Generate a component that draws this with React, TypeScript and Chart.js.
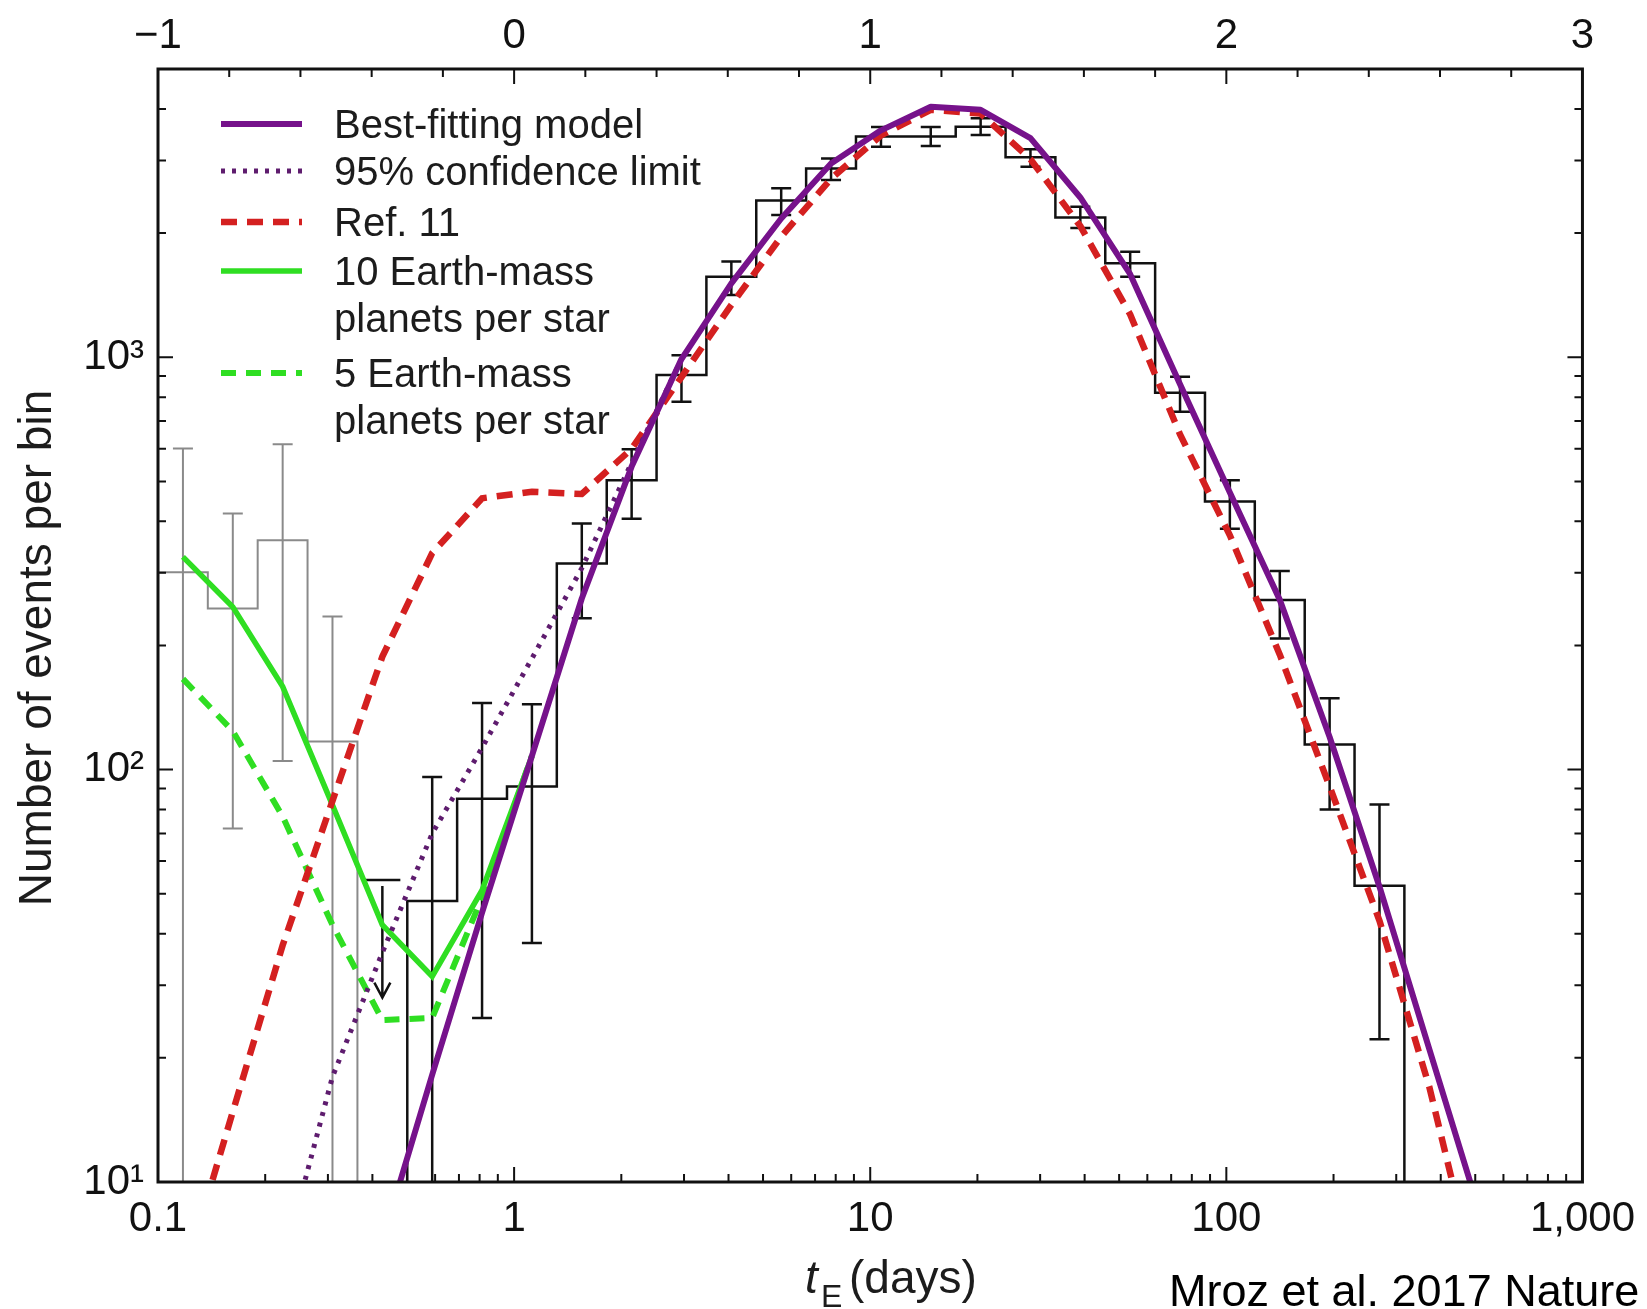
import React, { useEffect, useRef } from 'react';
import { Chart, registerables } from 'chart.js';

Chart.register(...registerables);

// ---------- data ----------
// bin centres (tE, days) of the 0.14-dex bins
const binCenters = [0.1175, 0.1622, 0.2239, 0.309, 0.4266, 0.5888, 0.8128, 1.122, 1.549, 2.138, 2.951, 4.074, 5.623, 7.762, 10.72, 14.79, 20.42, 28.18, 38.9, 53.7, 74.13, 102.3, 141.3, 195.0, 269.2, 371.5, 512.9];

const bestFit = [null, null, null, null, 7.2, 18.2, 45, 108, 260, 543, 990, 1510, 2170, 2950, 3550, 4050, 3980, 3400, 2440, 1590, 860, 470, 258, 120, 52, 21, 8.5];
const confidence95 = [null, null, 6.3, 18, 36, 70, 113, 186, 308, 555, 990];
const ref11 = [5.8, 14.8, 37.5, 84, 188, 335, 455, 472, 466, 600, 895, 1340, 1960, 2710, 3450, 3980, 3900, 3020, 2080, 1270, 650, 370, 190, 91, 43, 17, 5.4];
const earth10 = [328, 248, 159, 82, 42, 31.5, 51, 108];
const earth5 = [166, 124, 77, 42, 24.7, 25, 49, 108];

// histogram (grey: shortest bins, black: the rest)
const grayEdges = [0.1, 0.138, 0.1905, 0.263, 0.3631];
const grayCounts = [301, 246, 360, 117];
const grayErrX = [0.1175, 0.1622, 0.2239, 0.309];
const grayErrLow = [1, 72, 105, 1];
const grayErrHigh = [601, 418, 615, 235];

const blackEdges = [0.5012, 0.6918, 0.955, 1.318, 1.82, 2.512, 3.467, 4.786, 6.607, 9.12, 12.59, 17.38, 23.99, 33.11, 45.71, 63.1, 87.1, 120.2, 166.0, 229.1, 316.2];
const blackCounts = [48, 85, 91, 316, 503, 906, 1567, 2400, 2870, 3430, 3430, 3620, 3054, 2183, 1690, 820, 447, 258, 115, 52.3];
const blackErrX = [0.5888, 0.8128, 1.122, 1.549, 2.138, 2.951, 4.074, 5.623, 7.762, 10.72, 14.79, 20.42, 28.18, 38.9, 53.7, 74.13, 102.3, 141.3, 195.0, 269.2];
const blackErrLow = [1, 25, 38, 233, 406, 780, 1416, 2213, 2690, 3238, 3252, 3461, 2898, 2057, 1567, 738, 384, 208, 80, 22.2];
const blackErrHigh = [96, 145, 144, 395, 598, 1011, 1706, 2570, 3035, 3619, 3619, 3796, 3194, 2316, 1802, 897, 503, 303, 149, 82.3];

// upper limit bin
const limitX = [0.4266];
const limitTop = [54];
const limitTip = [28];

const FLOOR = 1; // below the axis: histogram edges drop to the frame

// axis ticks
const xMajor = [0.1, 1, 10, 100, 1000];
const xMajorLabels = ['0.1', '1', '10', '100', '1,000'];
const yMajor = [10, 100, 1000];
const yMajorLabels = ['10\u00B9', '10\u00B2', '10\u00B3'];
const topMajor = [-1, 0, 1, 2, 3];
const topLabels = ['\u22121', '0', '1', '2', '3'];
const X_MIN = 0.1, X_MAX = 1000, Y_MIN = 10, Y_MAX = 5000;

// ---------- helpers ----------
const curve = (ys: (number | null)[]) =>
  ys.map((y, i) => ({ x: binCenters[i], y })).filter((p) => p.y !== null && p.y !== undefined) as { x: number; y: number }[];

const hist = (edges: number[], counts: number[], leadingFloor: boolean) => {
  const p = edges.map((x, i) => ({ x, y: i < counts.length ? counts[i] : FLOOR }));
  return leadingFloor ? [{ x: edges[0], y: FLOOR }, ...p] : p;
};

const FONT = '"Liberation Sans", Arial, Helvetica, sans-serif';
const PURPLE = '#76128B';
const RED = '#D42020';
const GREEN = '#2FDE22';

const errorBarPlugin = {
  id: 'errorBars',
  beforeDatasetsDraw(chart: any) {
    const { ctx, chartArea: a, scales } = chart;
    const x = scales.x, y = scales.y;
    ctx.save();
    ctx.beginPath();
    ctx.rect(a.left, a.top, a.width, a.height);
    ctx.clip();
    const draw = (xs: number[], lo: number[], hi: number[], color: string, w: number) => {
      ctx.strokeStyle = color;
      ctx.lineWidth = w;
      ctx.setLineDash([]);
      ctx.beginPath();
      xs.forEach((xv, i) => {
        const px = x.getPixelForValue(xv);
        const p1 = y.getPixelForValue(lo[i]);
        const p2 = y.getPixelForValue(hi[i]);
        ctx.moveTo(px, p1);
        ctx.lineTo(px, p2);
        ctx.moveTo(px - 10, p1);
        ctx.lineTo(px + 10, p1);
        ctx.moveTo(px - 10, p2);
        ctx.lineTo(px + 10, p2);
      });
      ctx.stroke();
    };
    draw(grayErrX, grayErrLow, grayErrHigh, '#8a8a8a', 2);
    draw(blackErrX, blackErrLow, blackErrHigh, '#111', 2.5);
    // upper limit with arrow
    ctx.strokeStyle = '#111';
    ctx.lineWidth = 2.5;
    ctx.beginPath();
    limitX.forEach((xv, i) => {
      const px = x.getPixelForValue(xv);
      const t = y.getPixelForValue(limitTop[i]);
      const b = y.getPixelForValue(limitTip[i]);
      ctx.moveTo(px - 18, t);
      ctx.lineTo(px + 18, t);
      ctx.moveTo(px, t + 6);
      ctx.lineTo(px, b);
      ctx.moveTo(px - 8, b - 15);
      ctx.lineTo(px, b);
      ctx.lineTo(px + 8, b - 15);
    });
    ctx.stroke();
    ctx.restore();
  },
};

const framePlugin = {
  id: 'frameTicks',
  afterDatasetsDraw(chart: any) {
    const { ctx, chartArea: a, scales } = chart;
    const x = scales.x, y = scales.y, xt = scales.xTop;
    const MAJ = 15, MIN = 8;
    ctx.save();
    ctx.setLineDash([]);
    ctx.strokeStyle = '#111';
    ctx.lineWidth = 2;
    ctx.beginPath();
    for (let d = -1; d < 3; d++) {
      for (let m = 1; m <= 9; m++) {
        const v = m * Math.pow(10, d);
        if (v <= X_MIN || v >= X_MAX) continue;
        const px = x.getPixelForValue(v);
        const len = m === 1 ? MAJ : MIN;
        ctx.moveTo(px, a.bottom);
        ctx.lineTo(px, a.bottom - len);
      }
    }
    for (let i = 1; i < 20; i++) {
      const v = -1 + i * 0.2;
      const px = xt.getPixelForValue(v);
      const len = i % 5 === 0 ? MAJ : MIN;
      ctx.moveTo(px, a.top);
      ctx.lineTo(px, a.top + len);
    }
    for (let d = 1; d <= 3; d++) {
      for (let m = 1; m <= 9; m++) {
        const v = m * Math.pow(10, d);
        if (v <= Y_MIN || v >= Y_MAX) continue;
        const py = y.getPixelForValue(v);
        const len = m === 1 ? MAJ : MIN;
        ctx.moveTo(a.left, py);
        ctx.lineTo(a.left + len, py);
        ctx.moveTo(a.right, py);
        ctx.lineTo(a.right - len, py);
      }
    }
    ctx.stroke();
    ctx.lineWidth = 3;
    ctx.strokeRect(a.left, a.top, a.right - a.left, a.bottom - a.top);
    ctx.restore();
  },
};

const legendEntries = [
  { ds: 0, y: 55 },
  { ds: 1, y: 102 },
  { ds: 2, y: 153 },
  { ds: 3, y: 202 },
  { ds: 4, y: 304 },
];

const textPlugin = {
  id: 'texts',
  afterDraw(chart: any) {
    const { ctx, chartArea: a } = chart;
    ctx.save();
    // legend
    legendEntries.forEach((e) => {
      const ds = chart.data.datasets[e.ds];
      const cy = a.top + e.y;
      ctx.beginPath();
      ctx.setLineDash(ds.borderDash || []);
      ctx.lineWidth = ds.borderWidth;
      ctx.strokeStyle = ds.borderColor;
      ctx.lineCap = 'butt';
      ctx.moveTo(a.left + 63, cy);
      ctx.lineTo(a.left + 144, cy);
      ctx.stroke();
      ctx.setLineDash([]);
      ctx.fillStyle = '#1c1c1c';
      ctx.font = `40px ${FONT}`;
      ctx.textAlign = 'left';
      ctx.textBaseline = 'alphabetic';
      String(ds.label).split('\n').forEach((line: string, i: number) => {
        ctx.fillText(line, a.left + 176, cy + 14 + i * 47);
      });
    });
    // y title
    ctx.fillStyle = '#1c1c1c';
    ctx.save();
    ctx.translate(51, 648);
    ctx.rotate(-Math.PI / 2);
    ctx.font = `46px ${FONT}`;
    ctx.textAlign = 'center';
    ctx.textBaseline = 'alphabetic';
    ctx.fillText('Number of events per bin', 0, 0);
    ctx.restore();
    // x title
    ctx.textAlign = 'left';
    ctx.textBaseline = 'alphabetic';
    ctx.font = `italic 46px ${FONT}`;
    ctx.fillText('t', 805, 1293);
    ctx.font = `32px ${FONT}`;
    ctx.fillText('E', 821, 1307);
    ctx.font = `46px ${FONT}`;
    ctx.fillText('(days)', 849, 1293);
    // citation
    ctx.fillStyle = '#000';
    ctx.font = `45px ${FONT}`;
    ctx.fillText('Mroz et al. 2017 Nature 548', 1169, 1306);
    ctx.restore();
  },
};

export default function App() {
  const ref = useRef<HTMLCanvasElement>(null);
  useEffect(() => {
    document.body.style.margin = '0';
    document.body.style.overflow = 'hidden';
    Chart.defaults.font.family = FONT;
    const tickFont = { size: 42, family: FONT };
    const chart = new Chart(ref.current as HTMLCanvasElement, {
      type: 'line',
      data: {
        datasets: [
          { label: 'Best-fitting model', data: curve(bestFit), borderColor: PURPLE, borderWidth: 6, borderJoinStyle: 'round', clip: 0 },
          { label: '95% confidence limit', data: curve(confidence95), borderColor: '#5E1C6E', borderWidth: 5, borderDash: [4, 7], clip: 0 },
          { label: 'Ref. 11', data: curve(ref11), borderColor: RED, borderWidth: 6.5, borderDash: [16, 10], clip: 0 },
          { label: '10 Earth-mass\nplanets per star', data: curve(earth10), borderColor: GREEN, borderWidth: 5.5, clip: 0 },
          { label: '5 Earth-mass\nplanets per star', data: curve(earth5), borderColor: GREEN, borderWidth: 6, borderDash: [15, 10], clip: 0 },
          { label: 'histogram', data: hist(blackEdges, blackCounts, true), borderColor: '#111', borderWidth: 2.5, stepped: 'before', clip: 0 },
          { label: 'histogram short', data: hist(grayEdges, grayCounts, false), borderColor: '#8a8a8a', borderWidth: 2, stepped: 'before', clip: 0 },
        ] as any,
      },
      options: {
        responsive: false,
        devicePixelRatio: 1,
        animation: false,
        parsing: true,
        layout: { padding: 0 },
        elements: { point: { radius: 0, hoverRadius: 0 }, line: { tension: 0, fill: false } },
        plugins: { legend: { display: false }, tooltip: { enabled: false } },
        scales: {
          x: {
            type: 'logarithmic',
            position: 'bottom',
            min: X_MIN,
            max: X_MAX,
            grid: { display: false, drawTicks: false },
            border: { display: false },
            afterBuildTicks: (s: any) => { s.ticks = xMajor.map((v) => ({ value: v })); },
            afterFit: (s: any) => { s.height = 127; },
            ticks: { autoSkip: false, maxRotation: 0, minRotation: 0, padding: 12, color: '#111', font: tickFont, callback: (_v: any, i: number) => xMajorLabels[i] },
          },
          xTop: {
            type: 'linear',
            position: 'top',
            min: -1,
            max: 3,
            grid: { display: false, drawTicks: false },
            border: { display: false },
            afterBuildTicks: (s: any) => { s.ticks = topMajor.map((v) => ({ value: v })); },
            afterFit: (s: any) => { s.height = 69; },
            ticks: { autoSkip: false, maxRotation: 0, minRotation: 0, padding: 7, color: '#111', font: tickFont, callback: (_v: any, i: number) => topLabels[i] },
          },
          y: {
            type: 'logarithmic',
            position: 'left',
            min: Y_MIN,
            max: Y_MAX,
            grid: { display: false, drawTicks: false },
            border: { display: false },
            afterBuildTicks: (s: any) => { s.ticks = yMajor.map((v) => ({ value: v })); },
            afterFit: (s: any) => { s.width = 158; },
            ticks: { autoSkip: false, padding: 14, color: '#111', font: tickFont, callback: (_v: any, i: number) => yMajorLabels[i] },
          },
          yRight: {
            type: 'logarithmic',
            position: 'right',
            min: Y_MIN,
            max: Y_MAX,
            grid: { display: false, drawTicks: false },
            border: { display: false },
            afterFit: (s: any) => { s.width = 50; },
            ticks: { display: false },
          },
        },
      } as any,
      plugins: [errorBarPlugin, framePlugin, textPlugin],
    });
    return () => chart.destroy();
  }, []);
  return <canvas ref={ref} width={1647} height={1309} style={{ display: 'block', width: '1647px', height: '1309px' }} />;
}
